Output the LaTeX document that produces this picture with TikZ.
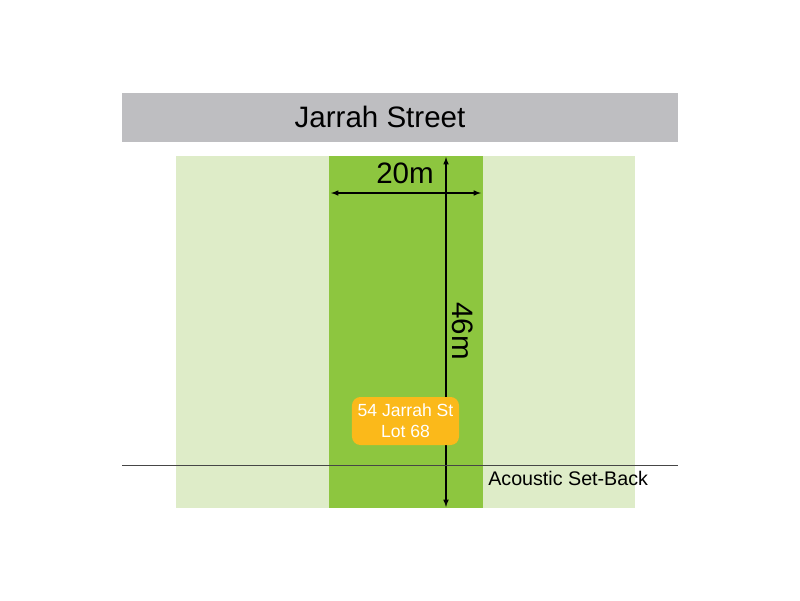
\documentclass[tikz,border=0pt]{standalone}
\usepackage{fontspec}
\setmainfont{Liberation Sans}
\usetikzlibrary{shapes,arrows,positioning}

\definecolor{streetgray}{RGB}{190,190,193}
\definecolor{lightlot}{RGB}{222,236,200}
\definecolor{lotgreen}{RGB}{141,198,63}
\definecolor{tagorange}{RGB}{251,185,26}
\definecolor{linegray}{RGB}{70,70,70}

\begin{document}
\begin{tikzpicture}[
        x=0.025cm, y=-0.025cm,
        label/.style={font=\fontsize{21}{24}\selectfont, inner sep=0pt},
        tag/.style={rectangle, rounded corners=6pt, fill=tagorange, text=white, align=center,
            minimum width=2.675cm, minimum height=1.2cm, inner sep=0pt,
            font=\fontsize{12.5}{15}\selectfont},
        note/.style={font=\fontsize{14}{16}\selectfont, inner sep=0pt},
        dimarrow/.style={line width=0.8pt,<->,>=latex},
        setback/.style={linegray, line width=0.5pt}
    ]
        \useasboundingbox (0,0) rectangle (800,600);

        % Street
        \fill[streetgray] (122,93) rectangle (678,142);
        \node[label, anchor=base] (street) at (380,127) {Jarrah Street};

        % Lots
        \fill[lightlot] (176,156) rectangle (635,508);
        \fill[lotgreen] (329,156) rectangle (483,508);

        % Dimensions
        \coordinate (west) at (331,193);
        \coordinate (east) at (481,193);
        \coordinate (front) at (446,157);
        \coordinate (back) at (446,507);
        \draw[dimarrow] (west) -- (east);
        \draw[dimarrow] (front) -- (back);
        \node[label, anchor=base] (width) at (405,183) {20m};
        \node[label, rotate=-90] (depth) at (463,331) {46m};

        % Lot tag
        \node[tag] (lot) at (405.5,421) {54 Jarrah St\\Lot 68};

        % Acoustic set-back
        \coordinate (sbleft) at (122,465);
        \coordinate (sbright) at (678,465);
        \draw[setback] (sbleft) -- (sbright);
        \node[note, anchor=west] (acoustic) at (488,478) {Acoustic Set-Back};
    \end{tikzpicture}
\end{document}
